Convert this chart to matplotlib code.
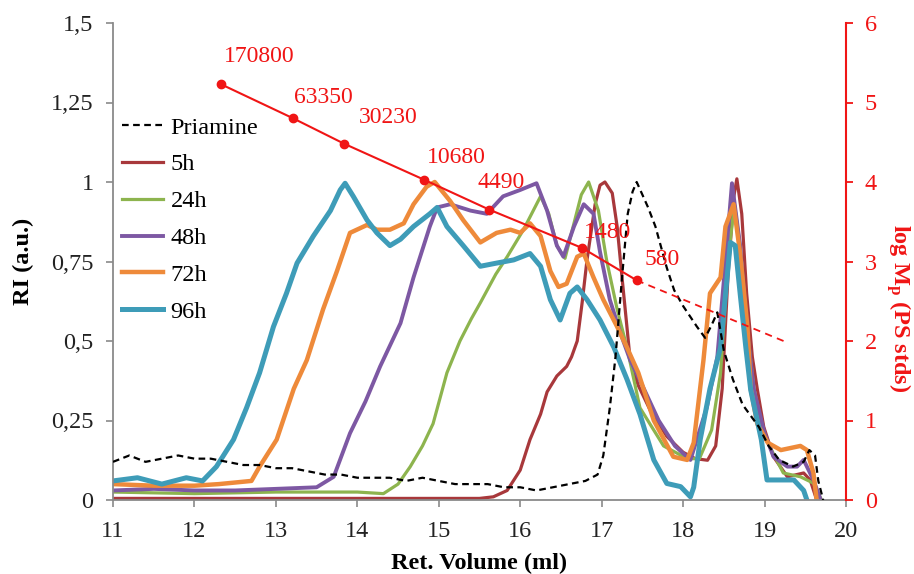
import numpy as np
import matplotlib
matplotlib.use("Agg")
import matplotlib.pyplot as plt

plt.rcParams['font.family'] = ['Liberation Serif', 'DejaVu Serif']
plt.rcParams['mathtext.fontset'] = 'custom'
plt.rcParams['mathtext.rm'] = 'Liberation Serif:bold'
plt.rcParams['mathtext.it'] = 'Liberation Serif:bold'
plt.rcParams['mathtext.bf'] = 'Liberation Serif:bold'

# ---------------- data ----------------
priamine_x = [11.0, 11.2, 11.4, 11.6, 11.8, 12.0, 12.2, 12.4, 12.6, 12.8, 13.0, 13.2, 13.4, 13.6,
              13.8, 14.0, 14.2, 14.4, 14.6, 14.8, 15.0, 15.2, 15.4, 15.6, 15.8, 16.0, 16.2, 16.4,
              16.6, 16.8, 16.95, 17.02, 17.1, 17.17, 17.25, 17.32, 17.38, 17.43, 17.5, 17.57,
              17.66, 17.8, 17.89, 18.0, 18.17, 18.27, 18.35, 18.42, 18.5, 18.61, 18.73, 18.93,
              19.05, 19.18, 19.35, 19.48, 19.55, 19.62, 19.66, 19.72]
priamine_y = [0.12, 0.14, 0.12, 0.13, 0.14, 0.13, 0.13, 0.12, 0.11, 0.11, 0.10, 0.10, 0.09, 0.08,
              0.08, 0.07, 0.07, 0.07, 0.06, 0.07, 0.06, 0.05, 0.05, 0.05, 0.04, 0.04, 0.03, 0.04,
              0.05, 0.06, 0.08, 0.14, 0.29, 0.45, 0.70, 0.90, 0.97, 1.00, 0.96, 0.92,
              0.86, 0.73, 0.66, 0.61, 0.545, 0.51, 0.55, 0.59, 0.47, 0.38, 0.30, 0.23,
              0.17, 0.126, 0.105, 0.12, 0.157, 0.14, 0.06, 0.0]

h5_x = [11.0, 12.0, 13.0, 14.0, 15.0, 15.5, 15.67, 15.84, 16.0, 16.12, 16.25, 16.33, 16.45, 16.57,
        16.63, 16.7, 16.76, 16.82, 16.92, 16.98, 17.04, 17.13, 17.19, 17.25, 17.31, 17.35, 17.45,
        17.6, 17.8, 18.0, 18.15, 18.3, 18.4, 18.48, 18.55, 18.62, 18.66, 18.72, 18.78, 18.85,
        18.91, 18.99, 19.11, 19.28, 19.48, 19.56, 19.64]
h5_y = [0.005, 0.005, 0.005, 0.005, 0.005, 0.005, 0.01, 0.03, 0.094, 0.19, 0.27, 0.34, 0.39, 0.42,
        0.45, 0.50, 0.62, 0.755, 0.93, 0.99, 1.0, 0.965, 0.86, 0.70, 0.545, 0.44, 0.36,
        0.28, 0.20, 0.15, 0.13, 0.125, 0.17, 0.35, 0.70, 0.95, 1.01, 0.90, 0.65, 0.45,
        0.35, 0.23, 0.136, 0.073, 0.085, 0.063, 0.0]

h24_x = [11.0, 12.0, 13.0, 14.0, 14.32, 14.5, 14.65, 14.8, 14.93, 15.1, 15.26, 15.4, 15.51, 15.7,
         15.84, 16.04, 16.16, 16.25, 16.35, 16.45, 16.55, 16.65, 16.75, 16.84, 16.96, 17.06, 17.19,
         17.31, 17.47, 17.76, 18.05, 18.2, 18.35, 18.46, 18.55, 18.63, 18.7, 18.78, 18.87, 19.0,
         19.23, 19.44, 19.6, 19.7]
h24_y = [0.025, 0.02, 0.025, 0.025, 0.02, 0.05, 0.105, 0.17, 0.24, 0.40, 0.50, 0.57, 0.62, 0.71,
         0.765, 0.85, 0.91, 0.955, 0.90, 0.80, 0.76, 0.86, 0.96, 1.0, 0.91, 0.755, 0.60,
         0.48, 0.29, 0.17, 0.13, 0.13, 0.22, 0.40, 0.75, 0.93, 0.80, 0.55, 0.35, 0.20,
         0.085, 0.073, 0.053, 0.0]

h48_x = [11.0, 11.5, 12.0, 12.5, 13.0, 13.5, 13.71, 13.91, 14.1, 14.28, 14.53, 14.69, 14.89, 14.98,
         15.14, 15.39, 15.59, 15.79, 16.0, 16.2, 16.33, 16.45, 16.53, 16.66, 16.78, 16.9, 16.98,
         17.1, 17.23, 17.35, 17.5, 17.7, 17.9, 18.09, 18.29, 18.42, 18.52, 18.6, 18.7, 18.78,
         18.87, 19.0, 19.11, 19.28, 19.4, 19.48, 19.52, 19.6, 19.69]
h48_y = [0.03, 0.035, 0.03, 0.03, 0.035, 0.04, 0.073, 0.21, 0.31, 0.42, 0.556, 0.70, 0.86, 0.92,
         0.93, 0.91, 0.90, 0.955, 0.975, 0.996, 0.91, 0.80, 0.765, 0.86, 0.93, 0.90, 0.78,
         0.63, 0.525, 0.44, 0.36, 0.25, 0.17, 0.126, 0.29, 0.45, 0.75, 0.996, 0.80, 0.545,
         0.346, 0.21, 0.136, 0.105, 0.105, 0.126, 0.105, 0.063, 0.0]

h72_x = [11.0, 11.5, 12.0, 12.3, 12.7, 12.8, 13.01, 13.22, 13.38, 13.58, 13.75, 13.91, 14.12, 14.24,
         14.4, 14.57, 14.69, 14.85, 14.95, 15.14, 15.3, 15.51, 15.71, 15.88, 16.0, 16.12, 16.25,
         16.37, 16.47, 16.57, 16.7, 16.78, 16.9, 17.02, 17.19, 17.31, 17.45, 17.64, 17.88, 18.05,
         18.13, 18.25, 18.33, 18.46, 18.52, 18.62, 18.7, 18.79, 18.83, 18.91, 19.04, 19.2, 19.44,
         19.52, 19.6, 19.64]
h72_y = [0.05, 0.045, 0.045, 0.05, 0.06, 0.105, 0.19, 0.35, 0.44, 0.60, 0.72, 0.84, 0.865, 0.85,
         0.85, 0.87, 0.93, 0.985, 1.0, 0.94, 0.88, 0.81, 0.84, 0.85, 0.84, 0.87, 0.83,
         0.72, 0.67, 0.68, 0.765, 0.775, 0.70, 0.63, 0.545, 0.48, 0.40, 0.25, 0.136, 0.126,
         0.18, 0.44, 0.65, 0.70, 0.86, 0.93, 0.775, 0.545, 0.35, 0.24, 0.18, 0.157, 0.17,
         0.157, 0.085, 0.0]

h96_x = [11.0, 11.3, 11.6, 11.9, 12.1, 12.27, 12.48, 12.64, 12.8, 12.97, 13.13, 13.26, 13.46, 13.67,
         13.79, 13.85, 13.95, 14.12, 14.24, 14.4, 14.53, 14.69, 14.89, 14.98, 15.1, 15.3, 15.51,
         15.71, 15.92, 16.12, 16.25, 16.37, 16.49, 16.61, 16.7, 16.82, 16.98, 17.15, 17.31, 17.47,
         17.64, 17.8, 17.97, 18.09, 18.13, 18.21, 18.33, 18.46, 18.58, 18.64, 18.7, 18.77, 18.83,
         18.96, 19.03, 19.2, 19.36, 19.48, 19.52]
h96_y = [0.06, 0.07, 0.05, 0.07, 0.06, 0.105, 0.19, 0.29, 0.40, 0.545, 0.65, 0.745, 0.83, 0.91,
         0.975, 0.996, 0.955, 0.88, 0.84, 0.80, 0.82, 0.86, 0.90, 0.92, 0.86, 0.80, 0.735,
         0.745, 0.755, 0.775, 0.735, 0.63, 0.566, 0.65, 0.67, 0.63, 0.566, 0.48, 0.38, 0.27,
         0.126, 0.052, 0.042, 0.01, 0.04, 0.19, 0.35, 0.48, 0.81, 0.80, 0.65, 0.48, 0.346,
         0.19, 0.063, 0.063, 0.063, 0.03, 0.0]

# PS calibration standards
std_mp = [170800, 63350, 30230, 10680, 4490, 1480, 580]
std_vol = [12.32, 13.21, 13.84, 14.82, 15.62, 16.76, 17.43]
trend_vol = [17.43, 19.28]
trend_logm = [2.763, 1.98]

x_ticks = [11, 12, 13, 14, 15, 16, 17, 18, 19, 20]
y_ticks = [0, 0.25, 0.5, 0.75, 1, 1.25, 1.5]
y_ticklabels = ['0', '0,25', '0,5', '0,75', '1', '1,25', '1,5']
y2_ticks = [0, 1, 2, 3, 4, 5, 6]

series = [
    ('5h', h5_x, h5_y, '#A8383B', 2.3),
    ('24h', h24_x, h24_y, '#8DB44E', 2.3),
    ('48h', h48_x, h48_y, '#7D58A3', 2.8),
    ('72h', h72_x, h72_y, '#EE8A3A', 3.2),
    ('96h', h96_x, h96_y, '#3E9CB8', 3.6),
]

FS = 17.5

# ---------------- figure ----------------
fig = plt.figure(figsize=(9.14, 5.74), dpi=100)
ax = fig.add_axes([113/914, 1-500/574, 733/914, 477/574])

handles = []
h_pri, = ax.plot(priamine_x, priamine_y, color='black', lw=1.6, ls=(0, (3, 2)), zorder=8,
                 label='Priamine')
handles.append(h_pri)
for name, xs, ys, c, lw in series:
    h, = ax.plot(xs, ys, color=c, lw=lw, label=name, solid_joinstyle='round')
    handles.append(h)

ax.set_xlim(11, 20)
ax.set_ylim(0, 1.5)
ax.set_xticks(x_ticks)
ax.set_yticks(y_ticks)
ax.set_yticklabels(y_ticklabels)
ax.tick_params(axis='both', labelsize=FS, labelcolor='#222222', direction='out', length=5,
               width=1.2, color='#8a8a8a')
ax.tick_params(axis='x', pad=10)
ax.tick_params(axis='y', pad=9)
for s in ['top', 'right']:
    ax.spines[s].set_visible(False)
for s in ['left', 'bottom']:
    ax.spines[s].set_color('#8a8a8a')
    ax.spines[s].set_linewidth(1.3)

ax.set_xlabel('Ret. Volume (ml)', fontsize=FS, fontweight='bold', labelpad=8)
ax.set_ylabel('RI (a.u.)', fontsize=FS, fontweight='bold', labelpad=12)

leg = ax.legend(handles=handles, loc='upper left', bbox_to_anchor=(0.012, 0.804),
                frameon=False, fontsize=FS, handlelength=1.7, handletextpad=0.3,
                labelspacing=0.61, borderpad=0, borderaxespad=0)

# secondary axis
ax2 = ax.twinx()
ax2.set_ylim(0, 6)
ax2.set_yticks(y2_ticks)
red = '#F01515'
logm = np.log10(std_mp)
ax2.plot(std_vol, logm, color=red, lw=1.5, marker='o', ms=6, zorder=10)
ax2.plot(trend_vol, trend_logm, color=red, lw=1.3, ls=(0, (4, 3)), zorder=10)
for s in ['top', 'left', 'bottom']:
    ax2.spines[s].set_visible(False)
ax2.spines['right'].set_color(red)
ax2.spines['right'].set_linewidth(1.5)
ax2.tick_params(axis='y', colors=red, labelsize=FS, direction='out', length=5, width=1.3,
                pad=8.5)

offsets = [(28, 20), (22, 15), (32, 18.6), (23, 15.7), (8.6, 19.2), (18, 11), (18.2, 15.3)]
for v, lm, m, off in zip(std_vol, logm, std_mp, offsets):
    ax2.annotate(str(m), (v, lm), xytext=off, textcoords='offset points', ha='center',
                 va='center', color=red, fontsize=17, zorder=11)

fig.text(898/914, 1-308/574, r'log M$_{\mathrm{p}}$ (PS stds)', rotation=-90, ha='center',
         va='center', color=red, fontsize=FS, fontweight='bold')

fig.savefig('out.png', dpi=100)
